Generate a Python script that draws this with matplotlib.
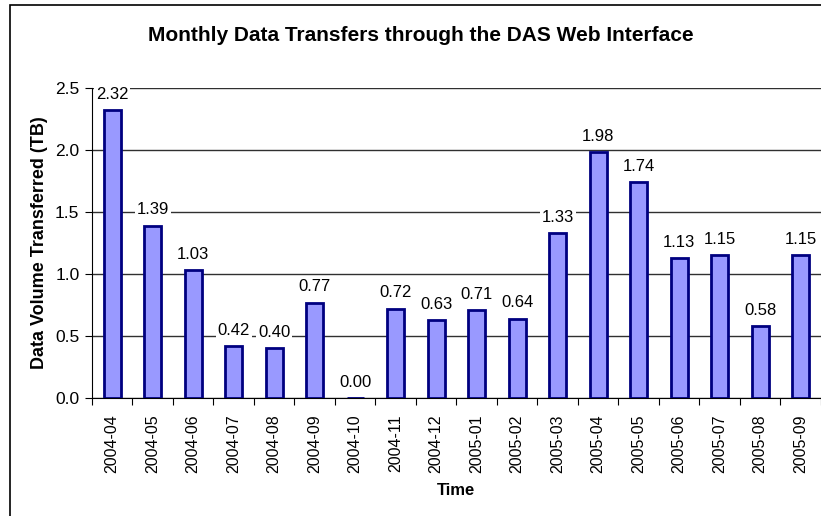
import matplotlib.pyplot as plt
from matplotlib.patches import Rectangle

plt.rcParams['font.family'] = ['Liberation Sans', 'DejaVu Sans']

# Monthly transfer volumes (TB)
months = ['2004-04', '2004-05', '2004-06', '2004-07', '2004-08', '2004-09',
          '2004-10', '2004-11', '2004-12', '2005-01', '2005-02', '2005-03',
          '2005-04', '2005-05', '2005-06', '2005-07', '2005-08', '2005-09']
volumes = [2.32, 1.39, 1.03, 0.42, 0.40, 0.77, 0.00, 0.72, 0.63, 0.71, 0.64,
           1.33, 1.98, 1.74, 1.13, 1.15, 0.58, 1.15]

fig = plt.figure(figsize=(8.21, 5.16), dpi=100)
ax = fig.add_axes([0.112, 0.2287, 0.888, 0.6008])

x = list(range(len(months)))
ax.bar(x, volumes, width=0.42, color='#9999ff', edgecolor='#000080',
       linewidth=2, zorder=3)

for xi, v in zip(x, volumes):
    ax.annotate(f'{v:.2f}', (xi, v), xytext=(0, 6), textcoords='offset points',
                ha='center', va='bottom', fontsize=12, zorder=5,
                bbox=dict(facecolor='white', edgecolor='none', pad=1.5))

yticks = [0, 0.5, 1.0, 1.5, 2.0, 2.5]
ax.set_xlim(-0.5, len(months) - 0.5)
ax.set_ylim(0, 2.5)
ax.set_yticks(yticks)
ax.set_yticklabels([f'{t:.1f}' for t in yticks], fontsize=12.5)
ax.set_xticks([i - 0.5 for i in x] + [len(months) - 0.5], minor=False)
ax.set_xticklabels([])
ax.set_xticks(x, minor=True)
ax.set_xticklabels(months, minor=True, rotation=90, fontsize=11.5)
ax.tick_params(axis='x', which='minor', length=0, pad=12)
ax.tick_params(axis='x', which='major', length=5, direction='out')
ax.tick_params(axis='y', length=5, direction='out', pad=4)

ax.grid(axis='y', color='#303030', linewidth=1, zorder=0)
ax.set_axisbelow(True)
for s in ['top', 'right']:
    ax.spines[s].set_visible(False)

ax.set_xlabel('Time', fontsize=12, fontweight='bold', labelpad=7)
ax.set_ylabel('Data Volume Transferred (TB)', fontsize=13, fontweight='bold', labelpad=5)
fig.text(0.512, 0.932, 'Monthly Data Transfers through the DAS Web Interface',
         ha='center', va='center', fontsize=15, fontweight='bold')

# chart frame (runs off the right and bottom edges)
fig.patches.append(Rectangle((9.5 / 821, -0.1), 1.2, 1.1 - 4.5 / 516,
                             transform=fig.transFigure, fill=False,
                             edgecolor='black', linewidth=1.2))

fig.savefig('out.png', dpi=100)
